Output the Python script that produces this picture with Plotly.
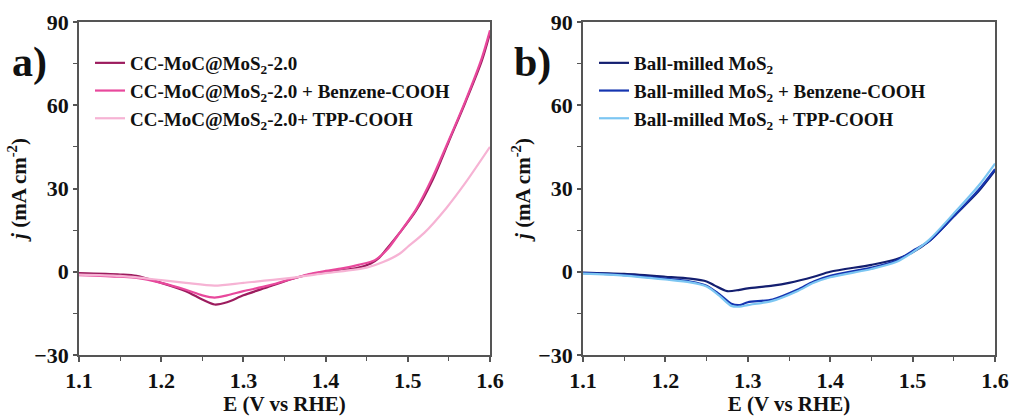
import plotly.graph_objects as go

# ---------------- data ----------------
# Panel a
xa_dark = [1.10, 1.15, 1.17, 1.20, 1.23, 1.25, 1.265, 1.28, 1.30, 1.33, 1.36, 1.38, 1.40, 1.42, 1.44, 1.455, 1.465, 1.475, 1.49, 1.51, 1.53, 1.55, 1.57, 1.59, 1.60]
ya_dark = [-0.5, -1.0, -1.5, -4.0, -7.0, -10.0, -11.8, -11.0, -8.5, -5.5, -2.5, -1.0, 0.0, 0.5, 1.5, 3.0, 5.0, 8.5, 14.0, 22.0, 33.0, 47.0, 61.0, 76.0, 86.0]

xa_benz = [1.10, 1.15, 1.17, 1.20, 1.23, 1.25, 1.265, 1.28, 1.30, 1.33, 1.36, 1.38, 1.40, 1.42, 1.44, 1.46, 1.475, 1.49, 1.51, 1.53, 1.55, 1.57, 1.59, 1.60]
ya_benz = [-1.2, -1.8, -2.2, -4.0, -6.5, -8.5, -9.3, -8.5, -7.0, -5.0, -2.5, -0.8, 0.3, 1.2, 2.5, 4.2, 8.0, 14.0, 22.5, 34.0, 47.5, 61.5, 77.0, 87.0]

xa_tpp = [1.10, 1.15, 1.20, 1.23, 1.265, 1.30, 1.35, 1.40, 1.45, 1.47, 1.49, 1.50, 1.52, 1.547, 1.57, 1.60]
ya_tpp = [-1.0, -1.5, -3.0, -4.0, -5.0, -4.0, -2.5, -0.5, 1.5, 3.5, 6.5, 9.0, 14.0, 23.0, 32.0, 45.0]

# Panel b
xb_bm = [1.10, 1.15, 1.20, 1.23, 1.25, 1.26, 1.275, 1.29, 1.30, 1.33, 1.35, 1.38, 1.40, 1.45, 1.48, 1.50, 1.52, 1.55, 1.58, 1.60]
yb_bm = [-0.3, -0.8, -1.8, -2.5, -3.5, -5.0, -7.0, -6.5, -6.0, -5.0, -4.0, -1.8, 0.0, 2.5, 4.5, 7.0, 11.0, 20.0, 29.0, 36.5]

xb_benz = [1.10, 1.15, 1.20, 1.23, 1.25, 1.265, 1.28, 1.29, 1.30, 1.33, 1.36, 1.38, 1.40, 1.45, 1.48, 1.50, 1.52, 1.55, 1.58, 1.60]
yb_benz = [-0.5, -1.2, -2.5, -3.5, -5.0, -8.0, -11.5, -12.0, -11.0, -10.0, -6.5, -3.5, -1.5, 1.5, 4.0, 7.5, 11.0, 20.0, 29.5, 37.0]

xb_tpp = [1.10, 1.15, 1.20, 1.23, 1.25, 1.265, 1.28, 1.29, 1.30, 1.33, 1.36, 1.38, 1.40, 1.45, 1.48, 1.50, 1.52, 1.55, 1.58, 1.60]
yb_tpp = [-0.7, -1.4, -2.8, -3.8, -5.3, -8.5, -12.3, -12.6, -12.0, -10.5, -7.0, -4.0, -2.0, 1.0, 3.5, 7.0, 11.5, 21.0, 31.0, 39.0]

names_a = ["CC-MoC@MoS<sub>2</sub>-2.0",
           "CC-MoC@MoS<sub>2</sub>-2.0 + Benzene-COOH",
           "CC-MoC@MoS<sub>2</sub>-2.0+ TPP-COOH"]
names_b = ["Ball-milled MoS<sub>2</sub>",
           "Ball-milled MoS<sub>2</sub> + Benzene-COOH",
           "Ball-milled MoS<sub>2</sub> + TPP-COOH"]
colors_a = ["#9c1c5e", "#e8489c", "#f6b3d4"]
colors_b = ["#141f70", "#1535b0", "#7cc6f2"]

x_ticks = [1.1, 1.2, 1.3, 1.4, 1.5, 1.6]
y_ticks = [-30, 0, 30, 60, 90]

FONT = "Liberation Serif"
W, H = 1012, 416

fig = go.Figure()

series_a = [(xa_dark, ya_dark), (xa_benz, ya_benz), (xa_tpp, ya_tpp)]
series_b = [(xb_bm, yb_bm), (xb_benz, yb_benz), (xb_tpp, yb_tpp)]

for (x, y), n, c in zip(series_a, names_a, colors_a):
    fig.add_trace(go.Scatter(x=x, y=y, mode="lines", name=n,
                             line=dict(color=c, width=2.2, shape="spline", smoothing=0.8),
                             xaxis="x", yaxis="y", legend="legend"))
for (x, y), n, c in zip(series_b, names_b, colors_b):
    fig.add_trace(go.Scatter(x=x, y=y, mode="lines", name=n,
                             line=dict(color=c, width=2.2, shape="spline", smoothing=0.8),
                             xaxis="x2", yaxis="y2", legend="legend2"))

tickfont = dict(family=FONT, size=22, color="#111", weight="bold")
titlefont = dict(family=FONT, size=21, color="#111", weight="bold")

def xaxis(domain, anchor):
    return dict(domain=domain, anchor=anchor, range=[1.1, 1.6], tickvals=x_ticks,
                ticktext=[f"{v:.1f}" for v in x_ticks], automargin=False,
                showline=True, linecolor="#555", linewidth=1.5, mirror=True,
                ticks="outside", ticklen=5, tickcolor="#555", tickwidth=1.5,
                minor=dict(dtick=0.05, tick0=1.1, ticks="outside", ticklen=4, tickcolor="#555", tickwidth=1.2),
                showgrid=False, zeroline=False, tickfont=tickfont,
                title=dict(text="E (V vs RHE)", font=titlefont, standoff=0))

def yaxis(domain, anchor):
    return dict(domain=domain, anchor=anchor, range=[-30, 90], tickvals=y_ticks, automargin=False,
                showline=True, linecolor="#555", linewidth=1.5, mirror=True,
                ticks="outside", ticklen=4, tickcolor="#555", tickwidth=1.5,
                minor=dict(dtick=15, tick0=-30, ticks="outside", ticklen=4, tickcolor="#555", tickwidth=1.2),
                showgrid=False, zeroline=False, tickfont=tickfont,
                title=dict(text="<i>j</i> (mA cm<sup>-2</sup>)", font=titlefont, standoff=2))

ydom = [61 / H, 394 / H]
legfont = dict(family=FONT, size=19, color="#111", weight="bold")

fig.update_layout(
    width=W, height=H,
    margin=dict(l=0, r=0, t=0, b=0, autoexpand=False),
    paper_bgcolor="white", plot_bgcolor="white",
    xaxis=xaxis([79 / W, 490 / W], "y"),
    yaxis=yaxis(ydom, "x"),
    xaxis2=xaxis([583 / W, 995 / W], "y2"),
    yaxis2=yaxis(ydom, "x2"),
    legend=dict(x=90 / W, y=1 - 44 / H, xanchor="left", yanchor="top",
                bgcolor="rgba(0,0,0,0)", font=legfont, itemwidth=30, tracegroupgap=0),
    legend2=dict(x=594 / W, y=1 - 44 / H, xanchor="left", yanchor="top",
                 bgcolor="rgba(0,0,0,0)", font=legfont, itemwidth=30, tracegroupgap=0),
    showlegend=True,
    annotations=[
        dict(text="a)", x=10 / W, y=1 - 62 / H, xref="paper", yref="paper",
             xanchor="left", yanchor="middle", showarrow=False,
             font=dict(family=FONT, size=42, color="#111", weight="bold")),
        dict(text="b)", x=512 / W, y=1 - 62 / H, xref="paper", yref="paper",
             xanchor="left", yanchor="middle", showarrow=False,
             font=dict(family=FONT, size=42, color="#111", weight="bold")),
    ],
)

fig.write_html("out.html")
